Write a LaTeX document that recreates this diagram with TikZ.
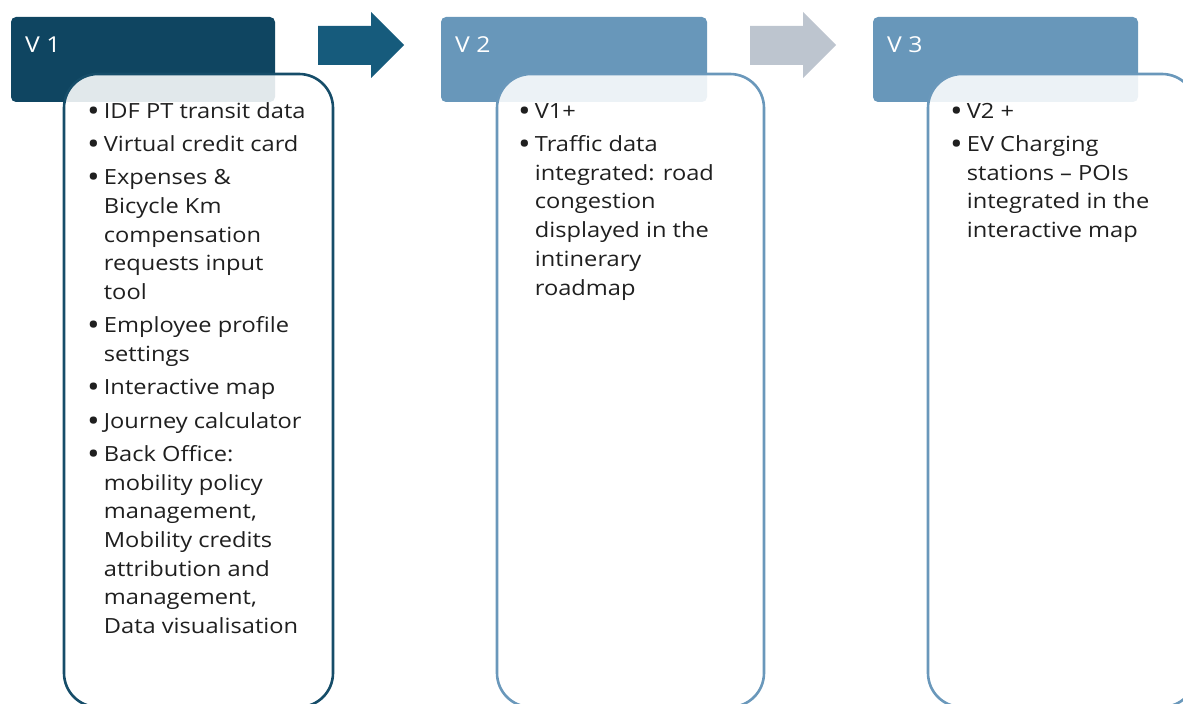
\documentclass[tikz,border=0pt]{standalone}
\usepackage{fontspec}
\setmainfont{Open Sans}[FakeStretch=1.13]
\definecolor{navy}{HTML}{0F4561}
\definecolor{navyline}{HTML}{164D69}
\definecolor{arrowdark}{HTML}{165B7C}
\definecolor{steel}{HTML}{6897BA}
\definecolor{steelline}{HTML}{6A98BB}
\definecolor{arrowgray}{HTML}{BDC5CF}
\newcommand\bodyfont{\fontsize{21}{28.8}\selectfont}
\newcommand\headfont{\fontsize{22}{26}\selectfont}
\tikzset{
  header/.style={rounded corners=5bp},
  card/.style={rounded corners=34bp, line width=2.6bp, fill=white, fill opacity=0.88},
  heading/.style={anchor=west, text=white, font=\headfont, inner sep=0pt},
  itemtext/.style={anchor=north west, align=left, font=\bodyfont, inner sep=0pt, text=black!88}
}
% enlarged list bullet that does not change the line height
\newcommand\bt{\smash{\raisebox{-3bp}{\fontsize{30}{30}\selectfont\textbullet}}}
\newcommand\gap{\\[4.6bp]}
\begin{document}
\begin{tikzpicture}[x=1bp,y=-1bp]
\useasboundingbox (0,0) rectangle (1183,704);
\begin{scope}
\clip (0,0) rectangle (1183,704);
% stage headers
\fill[navy, header] (11,17) rectangle (275,102);
\fill[steel, header] (441,17) rectangle (707,102);
\fill[steel, header] (873,17) rectangle (1138,102);
\node[heading] (h1) at (25,45) {V 1};
\node[heading] (h2) at (455,45) {V 2};
\node[heading] (h3) at (887,45) {V 3};
% content cards
\draw[card, draw=navyline] (64,74) rectangle (333,707);
\draw[card, draw=steelline] (497,74) rectangle (764,707);
\draw[card, draw=steelline] (928,74) rectangle (1196,707);
% arrows between stages
\fill[arrowdark] (318,26) -- (371,26) -- (371,12) -- (404,45) -- (371,78) -- (371,65) -- (318,65) -- cycle;
\fill[arrowgray] (750,26) -- (803,26) -- (803,12) -- (836,45) -- (803,78) -- (803,65) -- (750,65) -- cycle;
\end{scope}
% card contents
\node[itemtext] (t1) at (87,98) {\begin{tabular}{@{}l@{\hspace{4bp}}l@{}}
\bt & IDF PT transit data\gap
\bt & Virtual credit card\gap
\bt & Expenses \&\\
    & Bicycle Km\\
    & compensation\\
    & requests input\\
    & tool\gap
\bt & Employee profile\\
    & settings\gap
\bt & Interactive map\gap
\bt & Journey calculator\gap
\bt & Back Office:\\
    & mobility policy\\
    & management,\\
    & Mobility credits\\
    & attribution and\\
    & management,\\
    & Data visualisation
\end{tabular}};
\node[itemtext] (t2) at (518,98) {\begin{tabular}{@{}l@{\hspace{4bp}}l@{}}
\bt & V1+\gap
\bt & Traffic data\\
    & integrated: road\\
    & congestion\\
    & displayed in the\\
    & intinerary\\
    & roadmap
\end{tabular}};
\node[itemtext] (t3) at (950,98) {\begin{tabular}{@{}l@{\hspace{4bp}}l@{}}
\bt & V2 +\gap
\bt & EV Charging\\
    & stations – POIs\\
    & integrated in the\\
    & interactive map
\end{tabular}};
\end{tikzpicture}
\end{document}
